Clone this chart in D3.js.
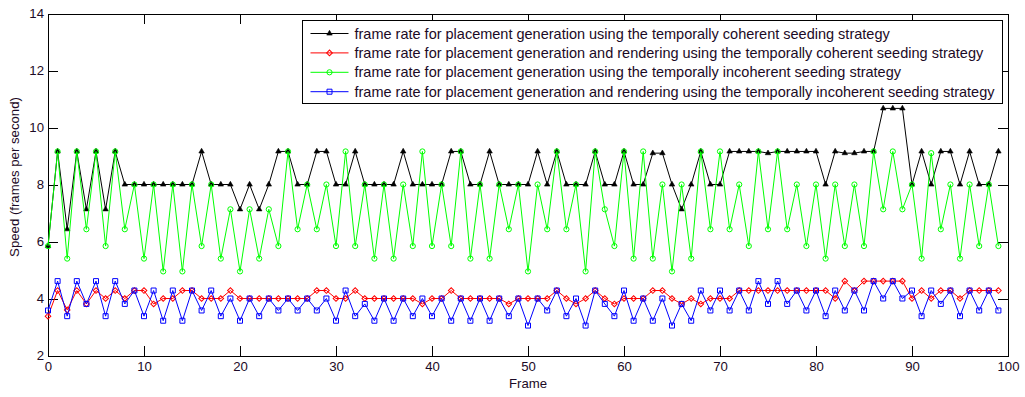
<!DOCTYPE html>
<html>
<head>
<meta charset="utf-8">
<script src="https://cdn.jsdelivr.net/npm/d3@7"></script>
<style>
    body { margin: 0; background: #fff; }
    svg { display: block; font-family: "Liberation Sans", Arial, sans-serif; }
    .axis text { fill: #1c0a26; font-size: 13.2px; }
    .axis path, .axis line { stroke: #000; shape-rendering: crispEdges; }
</style>
</head>
<body>
<script>
// Frame indices along the x axis
const frames = d3.range(0, 100);

// Speed values (frames per second) read per frame
const coherentPlacement = [
    5.84, 9.16, 6.43, 9.16, 7.13, 9.16, 7.13, 9.16, 8, 8,
    8, 8, 8, 8, 8, 8, 9.16, 8, 8, 8,
    7.13, 8, 7.13, 8, 9.16, 9.16, 8, 8, 9.16, 9.16,
    8, 8, 9.16, 8, 8, 8, 8, 9.16, 8, 8,
    8, 8, 9.16, 9.16, 8, 8, 9.16, 8, 8, 8,
    8, 9.16, 8, 9.16, 8, 8, 8, 9.16, 8, 8,
    9.16, 8, 8, 9.1, 9.1, 8, 7.13, 8, 9.16, 8,
    8, 9.16, 9.16, 9.16, 9.16, 9.1, 9.16, 9.16, 9.16, 9.16,
    9.16, 8, 9.16, 9.1, 9.1, 9.16, 9.16, 10.67, 10.67, 10.67,
    8, 9.16, 8, 9.16, 9.16, 8, 9.16, 8, 8, 9.16
];
const coherentRendering = [
    3.38, 4.28, 3.6, 4.28, 3.81, 4.28, 4.0, 4.28, 4.0, 4.28,
    4.28, 3.81, 4.0, 4.0, 4.28, 4.28, 4.0, 4.0, 4.0, 4.28,
    4.0, 4.0, 4.0, 4.0, 4.0, 4.0, 4.0, 4.0, 4.28, 4.28,
    4.0, 4.0, 4.28, 4.0, 4.0, 4.0, 4.0, 4.0, 4.0, 3.81,
    4.0, 4.0, 4.28, 4.0, 4.0, 4.0, 4.0, 4.0, 3.81, 4.0,
    4.0, 4.0, 4.0, 4.28, 4.0, 3.81, 4.0, 4.28, 4.0, 3.81,
    4.0, 4.0, 4.0, 4.28, 4.28, 4.0, 3.81, 4.0, 3.81, 4.0,
    4.0, 4.0, 4.28, 4.28, 4.28, 4.28, 4.28, 4.28, 4.28, 4.28,
    4.28, 4.28, 4.0, 4.61, 4.28, 4.61, 4.61, 4.61, 4.61, 4.61,
    4.0, 4.28, 4.0, 4.28, 4.28, 4.0, 4.28, 4.28, 4.28, 4.28
];
const incoherentPlacement = [
    5.84, 9.16, 5.4, 9.16, 6.43, 9.16, 5.84, 9.16, 6.43, 8,
    5.4, 8, 4.95, 8, 4.95, 8, 5.84, 8, 5.4, 7.13,
    4.95, 7.13, 5.4, 7.13, 5.84, 9.16, 6.43, 8, 6.43, 8,
    5.84, 9.16, 5.84, 8, 5.4, 8, 5.4, 8, 5.84, 9.16,
    5.84, 8, 5.84, 9.16, 5.4, 8, 5.4, 8, 6.43, 8,
    4.95, 8, 6.43, 9.16, 6.43, 8, 4.95, 9.16, 7.13, 5.84,
    9.16, 5.4, 9.16, 5.4, 8, 4.95, 8, 5.4, 9.16, 6.43,
    9.16, 6.43, 8, 5.84, 9.16, 6.43, 9.16, 6.43, 8, 5.84,
    8, 5.4, 8, 5.84, 8, 5.84, 9.16, 7.13, 9.16, 7.13,
    8, 5.4, 9.1, 6.43, 8, 5.4, 8, 5.84, 8, 5.84
];
const incoherentRendering = [
    3.58, 4.61, 3.38, 4.61, 3.81, 4.61, 3.38, 4.61, 3.81, 4.28,
    3.38, 4.28, 3.22, 4.28, 3.22, 4.28, 3.58, 4.28, 3.38, 4.0,
    3.22, 4.0, 3.38, 4.0, 3.58, 4.0, 3.58, 4.0, 3.58, 4.0,
    3.22, 4.28, 3.38, 3.81, 3.22, 4.0, 3.22, 4.0, 3.38, 4.0,
    3.38, 4.0, 3.22, 4.0, 3.22, 4.0, 3.22, 4.0, 3.38, 4.0,
    3.05, 4.0, 3.58, 4.28, 3.38, 4.0, 3.05, 4.28, 3.81, 3.38,
    4.28, 3.22, 4.0, 3.22, 4.0, 3.05, 3.81, 3.22, 4.28, 3.58,
    4.28, 3.58, 4.28, 3.58, 4.61, 3.81, 4.61, 3.81, 4.28, 3.58,
    4.28, 3.38, 4.28, 3.58, 4.28, 3.58, 4.61, 4.0, 4.61, 4.0,
    4.28, 3.38, 4.28, 3.81, 4.28, 3.38, 4.28, 3.58, 4.28, 3.58
];

const seriesLabels = [
    'frame rate for placement generation using the temporally coherent seeding strategy',
    'frame rate for placement generation and rendering using the temporally coherent seeding strategy',
    'frame rate for placement generation using the temporally incoherent seeding strategy',
    'frame rate for placement generation and rendering using the temporally incoherent seeding strategy'
];

const xTicks = [0, 10, 20, 30, 40, 50, 60, 70, 80, 90, 100];
const yTicks = [2, 4, 6, 8, 10, 12, 14];

function drawChart() {

    const width = 1025, height = 397;
    const margin = { top: 13.5, right: 17, bottom: 41.5, left: 48 };
    const innerW = width - margin.left - margin.right;
    const innerH = height - margin.top - margin.bottom;
    const textColor = '#1c0a26';

    const svg = d3.select('body')
        .append('svg')
        .attr('width', width)
        .attr('height', height);

    const g = svg.append('g')
        .attr('transform', `translate(${margin.left},${margin.top})`);

    const xScale = d3.scaleLinear().domain([0, 100]).range([0, innerW]);
    const yScale = d3.scaleLinear().domain([2, 14]).range([innerH, 0]);

    // Axes with inward ticks on all four sides (box on)
    g.append('g')
        .attr('class', 'axis')
        .attr('transform', `translate(0,${innerH})`)
        .call(d3.axisBottom(xScale).tickValues(xTicks).tickSizeInner(-10).tickSizeOuter(0).tickPadding(6.5));

    g.append('g')
        .attr('class', 'axis')
        .call(d3.axisLeft(yScale).tickValues(yTicks).tickSizeInner(-10).tickSizeOuter(0).tickPadding(4));

    g.append('g')
        .attr('class', 'axis')
        .call(d3.axisTop(xScale).tickValues(xTicks).tickSizeInner(-10).tickSizeOuter(0).tickFormat(''));

    g.append('g')
        .attr('class', 'axis')
        .attr('transform', `translate(${innerW},0)`)
        .call(d3.axisRight(yScale).tickValues(yTicks).tickSizeInner(-10).tickSizeOuter(0).tickFormat(''));

    // Axis titles
    svg.append('text')
        .attr('x', margin.left + innerW / 2)
        .attr('y', 388)
        .attr('text-anchor', 'middle')
        .style('font-size', '13.2px')
        .style('fill', textColor)
        .text('Frame');

    svg.append('text')
        .attr('transform', 'translate(19,177) rotate(-90)')
        .attr('text-anchor', 'middle')
        .style('font-size', '13.2px')
        .style('fill', textColor)
        .text('Speed (frames per second)');

    // Series definitions: values, colour and marker
    const series = [
        { values: coherentPlacement, color: '#000000', marker: 'triangle' },
        { values: coherentRendering, color: '#ff0000', marker: 'diamond' },
        { values: incoherentPlacement, color: '#00ff00', marker: 'circle' },
        { values: incoherentRendering, color: '#0000ff', marker: 'square' }
    ];

    const triangle = d3.symbol(d3.symbolTriangle, 13);
    const square = d3.symbol(d3.symbolSquare, 25);
    const diamond = d3.symbol(d3.symbolSquare, 16);

    function addMarker(sel, type, color) {
        if (type === 'circle') {
            sel.append('circle').attr('r', 2.6)
                .style('fill', 'none').style('stroke', color).style('stroke-width', 1);
        } else if (type === 'triangle') {
            sel.append('path').attr('d', triangle)
                .style('fill', color).style('stroke', color).style('stroke-width', 0.6);
        } else if (type === 'square') {
            sel.append('path').attr('d', square)
                .style('fill', 'none').style('stroke', color).style('stroke-width', 1);
        } else {
            sel.append('path').attr('d', diamond).attr('transform', 'rotate(45)')
                .style('fill', 'none').style('stroke', color).style('stroke-width', 1);
        }
    }

    const line = d3.line()
        .x((d, i) => xScale(frames[i]))
        .y(d => yScale(d));

    series.forEach(s => {
        const sg = g.append('g');
        sg.append('path')
            .datum(s.values)
            .attr('d', line)
            .style('fill', 'none')
            .style('stroke', s.color)
            .style('stroke-width', 1);

        sg.selectAll('g.pt')
            .data(s.values)
            .enter()
            .append('g')
            .attr('class', 'pt')
            .attr('transform', (d, i) => `translate(${xScale(frames[i])},${yScale(d)})`)
            .each(function () { addMarker(d3.select(this), s.marker, s.color); });
    });

    // Legend box
    const legend = svg.append('g')
        .attr('transform', 'translate(302.5,20.5)');

    legend.append('rect')
        .attr('width', 700)
        .attr('height', 83)
        .style('fill', '#fff')
        .style('stroke', '#000')
        .style('stroke-width', 1);

    series.forEach((s, i) => {
        const row = legend.append('g')
            .attr('transform', `translate(0,${13 + i * 19.4})`);
        row.append('line')
            .attr('x1', 8).attr('x2', 46)
            .style('stroke', s.color)
            .style('stroke-width', 1);
        addMarker(row.append('g').attr('transform', 'translate(27,0)'), s.marker, s.color);
        row.append('text')
            .attr('x', 52)
            .attr('dy', '0.35em')
            .style('font-size', '14.5px')
            .style('fill', textColor)
            .text(seriesLabels[i]);
    });
}

drawChart();
</script>
</body>
</html>
